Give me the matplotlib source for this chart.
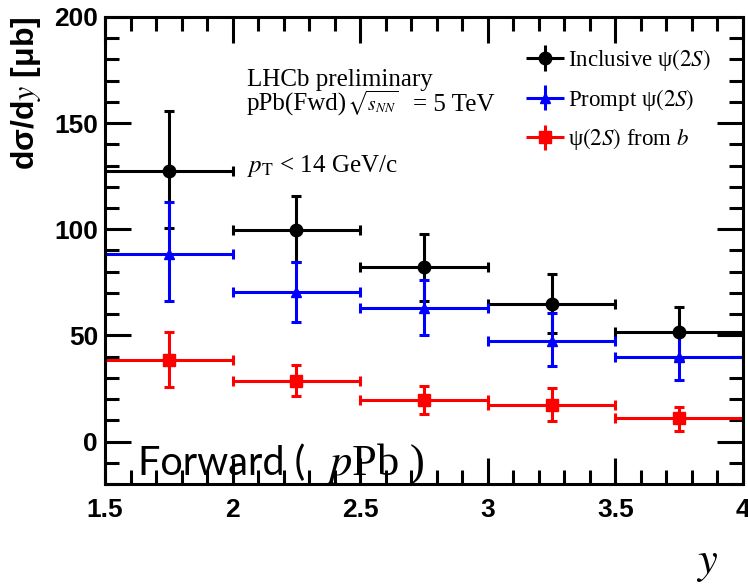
import matplotlib
matplotlib.use('Agg')
import matplotlib.pyplot as plt
from matplotlib.ticker import MultipleLocator
from matplotlib.container import ErrorbarContainer
from matplotlib.legend_handler import HandlerErrorbar

# rapidity bins
y_lo = [1.5, 2.0, 2.5, 3.0, 3.5]
y_hi = [2.0, 2.5, 3.0, 3.5, 4.0]

# inclusive psi(2S)
incl = [127.5, 99.5, 82.0, 65.0, 51.5]
incl_up = [28.0, 16.0, 16.0, 14.0, 12.0]
incl_dn = [27.0, 15.0, 16.0, 14.0, 13.0]

# prompt psi(2S)
prompt = [88.5, 70.5, 63.0, 47.5, 40.0]
prompt_up = [24.5, 14.0, 13.0, 13.0, 11.0]
prompt_dn = [22.5, 14.0, 13.0, 12.0, 11.0]

# psi(2S) from b
fromb = [38.5, 28.5, 19.5, 17.0, 11.0]
fromb_up = [13.0, 7.5, 6.5, 8.0, 5.5]
fromb_dn = [13.0, 7.0, 6.5, 7.5, 6.0]

plt.rcParams['mathtext.fontset'] = 'stix'

fig = plt.figure(figsize=(7.48, 5.85), dpi=100)
ax = fig.add_axes([105 / 748, 1 - 484 / 585, 638 / 748, 467 / 585])

x_mid = [(a + b) / 2 for a, b in zip(y_lo, y_hi)]
x_err = [(b - a) / 2 for a, b in zip(y_lo, y_hi)]

series = [
    (incl, incl_dn, incl_up, 'black', 'o', 9, 'Inclusive ψ$\\mathit{(2S)}$'),
    (prompt, prompt_dn, prompt_up, '#0000ff', '^', 7, 'Prompt ψ$\\mathit{(2S)}$'),
    (fromb, fromb_dn, fromb_up, '#ff0000', 's', 9, 'ψ$\\mathit{(2S)}$ from $\\mathit{b}$'),
]
handles = []
for vals, dn, up, col, mk, ms, lab in series:
    ax.errorbar(x_mid, vals, xerr=x_err, yerr=[dn, up], fmt=mk, color=col,
                ms=ms, lw=2.2, capsize=3.5, capthick=2.2)
    # legend proxy without caps
    h = ax.errorbar([float('nan')], [float('nan')], xerr=[1], yerr=[1], fmt=mk,
                    color=col, ms=ms, lw=2.2, capsize=0, label=lab)
    handles.append(h)

ax.set_xlim(1.5, 4)
ax.set_ylim(-20, 200)
ax.xaxis.set_major_locator(MultipleLocator(0.5))
ax.xaxis.set_minor_locator(MultipleLocator(0.1))
ax.yaxis.set_major_locator(MultipleLocator(50))
ax.yaxis.set_minor_locator(MultipleLocator(10))
ax.xaxis.set_major_formatter(plt.FuncFormatter(lambda v, p: f'{v:g}'))
ax.tick_params(which='both', direction='in', top=True, right=True, width=2.2)
ax.tick_params(which='major', length=19)
ax.tick_params(which='minor', length=10)
ax.tick_params(axis='x', which='major', pad=10)
ax.tick_params(axis='y', which='major', pad=5)
for s in ax.spines.values():
    s.set_linewidth(2.2)
for lab in ax.get_xticklabels() + ax.get_yticklabels():
    lab.set_fontfamily('Liberation Sans')
    lab.set_fontweight('bold')
    lab.set_fontsize(19)

fig.text(26 / 748, 1 - 93 / 585, 'dσ/d$\\mathit{y}$ [μb]', rotation=90,
         ha='center', va='center', fontsize=23, fontweight='bold',
         family=['Liberation Sans', 'DejaVu Sans'])

serif = 'Liberation Serif'
fig.text(247 / 748, 1 - 86 / 585, 'LHCb preliminary', fontsize=18, family=serif,
         va='baseline')
fig.text(247 / 748, 1 - 111 / 585, 'pPb(Fwd)', fontsize=18, family=serif,
         va='baseline')
fig.text(347 / 748, 1 - 111 / 585, r'$\sqrt{s_{NN}}$', fontsize=14, family=serif,
         va='baseline')
fig.text(413 / 748, 1 - 111 / 585, '= 5 TeV', fontsize=18, family=serif,
         va='baseline')
fig.text(247 / 748, 1 - 172 / 585, r'$p_{\rm T}$ < 14 GeV/c', fontsize=18, family=serif,
         va='baseline')

leg = ax.legend(handles=handles, loc='upper left', bbox_to_anchor=(0.623, 0.985),
                frameon=False, prop={'family': serif, 'size': 16.5},
                handlelength=1.75, handletextpad=0.1, labelspacing=0.6,
                borderpad=0.5,
                handler_map={ErrorbarContainer: HandlerErrorbar(xerr_size=0.83, yerr_size=0.55)})

fig.text(138 / 748, 1 - 475 / 585, 'Forward (', fontsize=28.5, family='Lato',
         va='baseline', ha='left')
fig.text(326 / 748, 1 - 475 / 585, r'$p$Pb )', fontsize=32, family='Liberation Serif',
         va='baseline', ha='left')
fig.text(707 / 748, 1 - 563 / 585, r'$y$', fontsize=32, va='center', ha='center')

fig.savefig('out.png', dpi=100)
